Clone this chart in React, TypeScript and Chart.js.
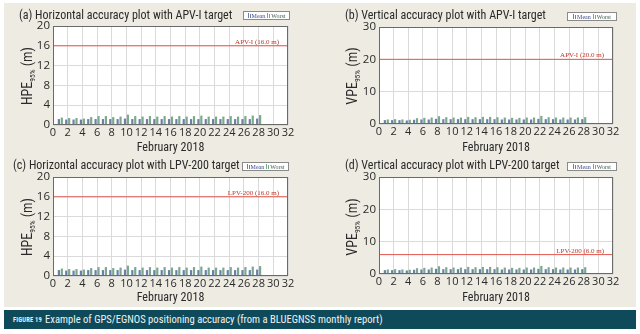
import React, { useEffect, useRef } from "react";
import { Chart, registerables } from "chart.js";
Chart.register(...registerables);

// ---------------- data ----------------
const days = [1, 2, 3, 4, 5, 6, 7, 8, 9, 10, 11, 12, 13, 14, 15, 16, 17, 18, 19, 20, 21, 22, 23, 24, 25, 26, 27, 28];
const hpeMean = [1.2, 1.1, 1.1, 1.1, 1.2, 1.2, 1.2, 1.2, 1.2, 1.3, 1.2, 1.2, 1.2, 1.2, 1.2, 1.2, 1.2, 1.2, 1.2, 1.2, 1.2, 1.2, 1.2, 1.2, 1.2, 1.2, 1.2, 1.3];
const hpeWorst = [1.5, 1.4, 1.4, 1.3, 1.6, 1.8, 1.8, 1.6, 1.7, 2.1, 1.8, 1.7, 1.8, 1.7, 1.8, 1.7, 1.8, 1.7, 1.8, 1.9, 1.7, 1.7, 1.7, 1.8, 1.7, 1.8, 1.9, 2.0];
const vpeMean = [1.2, 1.2, 1.2, 1.1, 1.3, 1.4, 1.4, 1.6, 1.5, 1.5, 1.5, 1.5, 1.5, 1.5, 1.5, 1.5, 1.4, 1.4, 1.4, 1.4, 1.4, 1.6, 1.5, 1.5, 1.4, 1.4, 1.4, 1.5];
const vpeWorst = [1.4, 1.5, 1.4, 1.3, 1.8, 1.9, 2.0, 2.4, 2.1, 2.0, 2.0, 2.2, 2.1, 2.2, 2.2, 2.1, 2.0, 1.9, 1.9, 2.0, 2.0, 2.5, 2.1, 2.0, 2.0, 2.0, 2.0, 2.1];

const xMin = 0;
const xMax = 32;
const xStep = 2;
const xTitle = "February 2018";
const legendLabels = ["Mean", "Worst"];

const panelTitles = [
  "(a) Horizontal accuracy plot with APV-I target",
  "(b) Vertical accuracy plot with APV-I target",
  "(c) Horizontal accuracy plot with LPV-200 target",
  "(d) Vertical accuracy plot with LPV-200 target",
];
const yNames = ["HPE", "VPE", "HPE", "VPE"];
const ySub = "95%";
const yUnit = " (m)";
const yMaxes = [20, 30, 20, 30];
const ySteps = [4, 5, 4, 5];
const targets = [16, 20, 16, 6];
const targetLabels = ["APV-I (16.0 m)", "APV-I (20.0 m)", "LPV-200 (16.0 m)", "LPV-200 (6.0 m)"];
const figLabel = "FIGURE 19";
const captionText = "Example of GPS/EGNOS positioning accuracy (from a BLUEGNSS monthly report)";

// ---------------- layout / style ----------------
const seriesMean = [hpeMean, vpeMean, hpeMean, vpeMean];
const seriesWorst = [hpeWorst, vpeWorst, hpeWorst, vpeWorst];

const layouts = [
  { cx: 0, cy: 0, pl: 53, pr: 288, pt: 26, pb: 125, tx: 19, ty: 15, lx: 243, ly: 11, lw: 47, lh: 9, ax: 28, ay: 76 },
  { cx: 320, cy: 0, pl: 379, pr: 613, pt: 27, pb: 124, tx: 345, ty: 15, lx: 567, ly: 12, lw: 50, lh: 9, ax: 353, ay: 76 },
  { cx: 0, cy: 150, pl: 53, pr: 288, pt: 177, pb: 276, tx: 13, ty: 165, lx: 242, ly: 162, lw: 47, lh: 9, ax: 28, ay: 227 },
  { cx: 320, cy: 150, pl: 379, pr: 613, pt: 177, pb: 274, tx: 345, ty: 165, lx: 567, ly: 162, lw: 50, lh: 9, ax: 353, ay: 227 },
];
const CW = 320;
const CH = 155;

const MEAN_COLOR = "#6d7fa9";
const WORST_COLOR = "#79a98c";
const TARGET_COLOR = "#e2574f";
const GRID_COLOR = "#dadada";
const TEXT_COLOR = "#2a2a2a";
const BEIGE = "#eeebe2";
const NARROW = '"Liberation Sans Narrow", "Roboto Condensed", "DejaVu Sans Condensed", Arial, sans-serif';
const TICK = '"Open Sans", "Liberation Sans", Arial, sans-serif';
const SERIF = '"Liberation Serif", "DejaVu Serif", serif';

function PanelChart({ idx }: { idx: number }) {
  const ref = useRef<HTMLCanvasElement | null>(null);
  const L = layouts[idx];
  useEffect(() => {
    const canvas = ref.current;
    if (!canvas) return;
    const target = targets[idx];
    const label = targetLabels[idx];
    const decor = {
      id: "decor" + idx,
      beforeDraw(chart: any) {
        const { ctx, chartArea: a } = chart;
        ctx.save();
        ctx.fillStyle = "#ffffff";
        ctx.fillRect(a.left, a.top, a.right - a.left, a.bottom - a.top);
        ctx.restore();
      },
      afterDatasetsDraw(chart: any) {
        const { ctx, chartArea: a } = chart;
        const y = chart.scales.y.getPixelForValue(target);
        ctx.save();
        ctx.font = "7px " + SERIF;
        ctx.fillStyle = "#c0392b";
        ctx.textAlign = "right";
        ctx.textBaseline = "alphabetic";
        ctx.fillText(label, a.right - 9, y - 2);
        ctx.strokeStyle = "#6a6a6a";
        ctx.lineWidth = 1;
        ctx.strokeRect(Math.round(a.left) + 0.5, Math.round(a.top) + 0.5, Math.round(a.right - a.left) - 1, Math.round(a.bottom - a.top) - 1);
        ctx.restore();
      },
    };
    const yW = L.pl - L.cx;
    const padR = L.cx + CW - L.pr;
    const padT = L.pt - L.cy;
    const xH = L.cy + CH - L.pb;
    const chart = new Chart(canvas, {
      type: "bar",
      data: {
        datasets: [
          {
            type: "line",
            data: [
              { x: xMin, y: target },
              { x: xMax, y: target },
            ],
            borderColor: TARGET_COLOR,
            borderWidth: 1,
            pointRadius: 0,
          } as any,
          {
            type: "bar",
            label: legendLabels[0],
            data: days.map((d, i) => ({ x: d, y: seriesMean[idx][i] })),
            backgroundColor: MEAN_COLOR,
            barPercentage: 0.75,
            categoryPercentage: 0.8,
          },
          {
            type: "bar",
            label: legendLabels[1],
            data: days.map((d, i) => ({ x: d, y: seriesWorst[idx][i] })),
            backgroundColor: WORST_COLOR,
            barPercentage: 0.75,
            categoryPercentage: 0.8,
          },
        ],
      },
      options: {
        responsive: false,
        animation: false,
        devicePixelRatio: 1,
        layout: { padding: { left: 0, right: padR, top: padT, bottom: 0 } },
        plugins: { legend: { display: false }, tooltip: { enabled: false } },
        scales: {
          x: {
            type: "linear",
            min: xMin,
            max: xMax,
            offset: false,
            grid: { color: GRID_COLOR, drawTicks: false, offset: false },
            border: { display: false },
            ticks: {
              stepSize: xStep,
              autoSkip: false,
              maxRotation: 0,
              minRotation: 0,
              padding: 1,
              color: TEXT_COLOR,
              font: { family: TICK, size: 11 },
            },
            title: {
              display: true,
              text: xTitle,
              color: TEXT_COLOR,
              font: { family: NARROW, size: 12 },
              padding: { top: 0, bottom: 0 },
            },
            afterFit: (s: any) => {
              s.height = xH;
            },
          },
          y: {
            min: 0,
            max: yMaxes[idx],
            grid: { color: GRID_COLOR, drawTicks: false },
            border: { display: false },
            ticks: {
              stepSize: ySteps[idx],
              padding: 3,
              color: TEXT_COLOR,
              font: { family: TICK, size: 11.5 },
            },
            afterFit: (s: any) => {
              s.width = yW;
            },
          },
        },
      } as any,
      plugins: [decor],
    });
    return () => chart.destroy();
  }, [idx]);
  return (
    <canvas
      ref={ref}
      width={CW}
      height={CH}
      style={{ position: "absolute", left: L.cx, top: L.cy, width: CW, height: CH, display: "block" }}
    />
  );
}

function BarIcon({ color }: { color: string }) {
  return (
    <span style={{ display: "inline-flex", alignItems: "flex-end", height: 5, marginRight: 1 }}>
      <span style={{ display: "inline-block", width: 1, height: 5, background: color, marginRight: 1 }} />
      <span style={{ display: "inline-block", width: 1, height: 4, background: color }} />
    </span>
  );
}

function Overlay({ idx }: { idx: number }) {
  const L = layouts[idx];
  return (
    <>
      <div
        style={{
          position: "absolute",
          left: L.tx,
          top: L.ty,
          transform: "translateY(-50%)",
          font: "12px " + NARROW,
          color: "#2a2a2a",
          whiteSpace: "nowrap",
          lineHeight: 1,
        }}
      >
        {panelTitles[idx]}
      </div>
      <div
        style={{
          position: "absolute",
          left: L.lx,
          top: L.ly,
          width: L.lw,
          height: L.lh,
          boxSizing: "border-box",
          border: "1px solid #8a8a8a",
          background: "#ffffff",
          display: "flex",
          alignItems: "center",
          justifyContent: "center",
          font: "6px " + SERIF,
          lineHeight: 1,
          whiteSpace: "nowrap",
          overflow: "hidden",
        }}
      >
        <BarIcon color={MEAN_COLOR} />
        <span style={{ color: "#3b4a8c", marginRight: 2 }}>{legendLabels[0]}</span>
        <BarIcon color={WORST_COLOR} />
        <span style={{ color: "#3d5a48" }}>{legendLabels[1]}</span>
      </div>
      <div style={{ position: "absolute", left: L.ax, top: L.ay, width: 0, height: 0 }}>
        <div
          style={{
            position: "absolute",
            left: 0,
            top: 0,
            transform: "translate(-50%, -50%) rotate(-90deg)",
            font: "14px " + NARROW,
            color: TEXT_COLOR,
            whiteSpace: "nowrap",
            lineHeight: 1,
          }}
        >
          {yNames[idx]}
          <sub style={{ fontSize: 7.5, verticalAlign: "-3px" }}>{ySub}</sub>
          {yUnit}
        </div>
      </div>
    </>
  );
}

export default function App() {
  return (
    <div style={{ position: "absolute", left: 0, top: 0, width: 640, height: 334, background: "#ffffff", overflow: "hidden" }}>
      <div style={{ position: "absolute", left: 4, top: 3, width: 632, height: 304, background: BEIGE }} />
      {[0, 1, 2, 3].map((i) => (
        <PanelChart key={"c" + i} idx={i} />
      ))}
      {[0, 1, 2, 3].map((i) => (
        <Overlay key={"o" + i} idx={i} />
      ))}
      <div
        style={{
          position: "absolute",
          left: 4,
          top: 310,
          width: 632,
          height: 19,
          background: "#0f4a5a",
          display: "flex",
          alignItems: "center",
          whiteSpace: "nowrap",
        }}
      >
        <span style={{ marginLeft: 9, font: "bold 6.5px " + NARROW, color: "#e8eef0", letterSpacing: 0.2 }}>{figLabel}</span>
        <span style={{ marginLeft: 3, font: "10.6px " + NARROW, color: "#eef3f4" }}>{captionText}</span>
      </div>
    </div>
  );
}
